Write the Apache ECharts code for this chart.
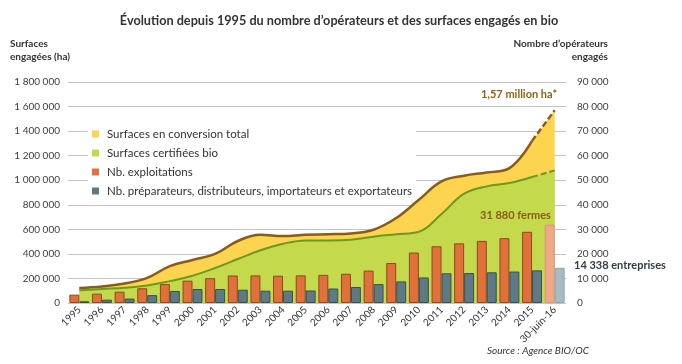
<!DOCTYPE html>
<html><head><meta charset="utf-8">
<script src="https://cdn.jsdelivr.net/npm/echarts@6/dist/echarts.min.js"></script>
<style>html,body{margin:0;padding:0;background:#fff}#c{width:682px;height:364px}</style>
</head><body><div id="c"></div>
<script>
const categories = ['1995','1996','1997','1998','1999','2000','2001','2002','2003','2004','2005','2006','2007','2008','2009','2010','2011','2012','2013','2014','2015','30-juin-16'];
const surfacesTotal = [122000,135000,158000,205000,300000,350000,400000,505000,556000,545000,556000,560000,567000,597000,692000,841000,990000,1037000,1063000,1099000,1320000,1570000];
const surfacesCertifiees = [103000,114000,124000,142000,178000,222000,285000,358000,430000,483000,510000,510000,515000,540000,560000,580000,725000,890000,950000,977000,1026000,1080000];
const nbExploitations = [3400,3800,4600,6000,7700,9100,10100,11200,11250,11100,11250,11450,11900,13200,16300,20550,23100,24300,25300,26400,29000,31880];
const nbPreparateurs = [700,1350,1800,3200,4900,5700,5700,5400,5000,5000,5100,5900,6500,7700,8800,10400,12100,12200,12500,12800,13300,14338];
const leftTicks = [0,200000,400000,600000,800000,1000000,1200000,1400000,1600000,1800000];
const rightTicks = [0,10000,20000,30000,40000,50000,60000,70000,80000,90000];

const FONT = 'Lato';
const fmt = v => String(v).replace(/\B(?=(\d{3})+(?!\d))/g, ' ');
const last = categories.length - 1;
const solidPart = arr => arr.map((v, i) => i < last ? v : null);
const dashedPart = arr => arr.map((v, i) => i >= last - 1 ? v : null);
const lastStyled = (arr, color, border) => arr.map((v, i) => i === last ? {value: v, itemStyle: {color: color, borderColor: border}} : v);

const chart = echarts.init(document.getElementById('c'));
const lineCommon = {type: 'line', smooth: 0.4, symbol: 'none', yAxisIndex: 0, silent: true, z: 2};
chart.setOption({
  animation: false,
  textStyle: {fontFamily: FONT},
  title: {text: 'Évolution depuis 1995 du nombre d\u2019opérateurs et des surfaces engagés en bio', left: 334, textAlign: 'center', top: 9,
    textStyle: {fontFamily: FONT, fontSize: 12.7, fontWeight: 'bold', color: '#333'}},
  grid: {left: 68, right: 116, top: 82, bottom: 61},
  legend: {orient: 'vertical', left: 88, top: 126, itemWidth: 7, itemHeight: 7, itemGap: 7, icon: 'rect',
    backgroundColor: '#fff', padding: [2, 4, 2, 4], z: 10,
    itemStyle: {borderWidth: 0},
    textStyle: {fontFamily: FONT, fontSize: 11.5, color: '#333', padding: [0, 0, 0, 3]},
    data: ['Surfaces en conversion total', 'Surfaces certifiées bio', 'Nb. exploitations', 'Nb. préparateurs, distributeurs, importateurs et exportateurs']},
  xAxis: {type: 'category', data: categories, boundaryGap: true,
    axisLine: {show: false}, axisTick: {show: false},
    axisLabel: {rotate: 45, fontSize: 10, color: '#333', margin: 5, interval: 0, fontFamily: FONT}},
  yAxis: [
    {type: 'value', min: leftTicks[0], max: leftTicks[leftTicks.length - 1], interval: leftTicks[1] - leftTicks[0],
      axisLine: {show: false}, axisTick: {show: false},
      splitLine: {lineStyle: {color: '#c4c4c4', width: 1}},
      axisLabel: {fontSize: 10, color: '#404040', margin: 8, formatter: fmt, fontFamily: FONT}},
    {type: 'value', min: rightTicks[0], max: rightTicks[rightTicks.length - 1], interval: rightTicks[1] - rightTicks[0],
      axisLine: {show: false}, axisTick: {show: false}, splitLine: {show: false},
      axisLabel: {fontSize: 10, color: '#404040', margin: 11, formatter: fmt, fontFamily: FONT}}
  ],
  series: [
    Object.assign({}, lineCommon, {name: 'Surfaces en conversion total', data: surfacesTotal,
      itemStyle: {color: '#FDD44F'}, lineStyle: {width: 0, opacity: 0}, areaStyle: {color: '#FDD44F', opacity: 1}}),
    Object.assign({}, lineCommon, {name: 'Surfaces certifiées bio', data: surfacesCertifiees,
      itemStyle: {color: '#C4D94B'}, lineStyle: {width: 0, opacity: 0}, areaStyle: {color: '#C4D94B', opacity: 1}}),
    Object.assign({}, lineCommon, {name: 'totalLine', z: 3, data: solidPart(surfacesTotal), lineStyle: {color: '#8C5B17', width: 2.5}}),
    Object.assign({}, lineCommon, {name: 'totalDash', z: 3, data: dashedPart(surfacesTotal), smooth: false, lineStyle: {color: '#8C5B17', width: 2.5, type: [6, 3]}}),
    Object.assign({}, lineCommon, {name: 'certLine', z: 3, data: solidPart(surfacesCertifiees), lineStyle: {color: '#6B9A1F', width: 2}}),
    Object.assign({}, lineCommon, {name: 'certDash', z: 3, data: dashedPart(surfacesCertifiees), smooth: false, lineStyle: {color: '#6B9A1F', width: 2, type: [6, 3]}}),
    {name: 'Nb. exploitations', type: 'bar', yAxisIndex: 1, barWidth: '44%', barGap: '0%', z: 5,
      itemStyle: {color: '#E2703A', borderColor: '#8A4A22', borderWidth: 1},
      data: lastStyled(nbExploitations, '#EFA98A', '#d8977a')},
    {name: 'Nb. préparateurs, distributeurs, importateurs et exportateurs', type: 'bar', yAxisIndex: 1, barWidth: '44%', barGap: '0%', z: 5,
      itemStyle: {color: '#5E7A85', borderColor: '#3C4E55', borderWidth: 1},
      data: lastStyled(nbPreparateurs, '#A7BCC2', '#8ea4aa')}
  ],
  graphic: [
    {type: 'text', left: 10, top: 39, style: {text: 'Surfaces', fontFamily: FONT, fontSize: 10, fontWeight: 'bold', fill: '#333'}},
    {type: 'text', left: 10, top: 52, style: {text: 'engagées (ha)', fontFamily: FONT, fontSize: 10, fontWeight: 'bold', fill: '#333'}},
    {type: 'text', right: 74, top: 39, style: {text: 'Nombre d\u2019opérateurs', fontFamily: FONT, fontSize: 10, fontWeight: 'bold', fill: '#333'}},
    {type: 'text', right: 74, top: 52, style: {text: 'engagés', fontFamily: FONT, fontSize: 10, fontWeight: 'bold', fill: '#333'}},
    {type: 'text', left: 481, top: 89, z: 20, style: {text: '1,57 million ha*', fontFamily: FONT, fontSize: 11, fontWeight: 'bold', fill: '#8C6416'}},
    {type: 'text', left: 480, top: 210, z: 20, style: {text: '31 880 fermes', fontFamily: FONT, fontSize: 11, fontWeight: 'bold', fill: '#8C5B17'}},
    {type: 'text', left: 574, top: 260, z: 20, style: {text: '14 338 entreprises', fontFamily: FONT, fontSize: 11, fontWeight: 'bold', fill: '#2F3D45'}},
    {type: 'text', left: 487, top: 346, style: {text: 'Source : Agence BIO/OC', fontFamily: FONT, fontSize: 10, fontStyle: 'italic', fill: '#333'}}
  ]
});
</script></body></html>
